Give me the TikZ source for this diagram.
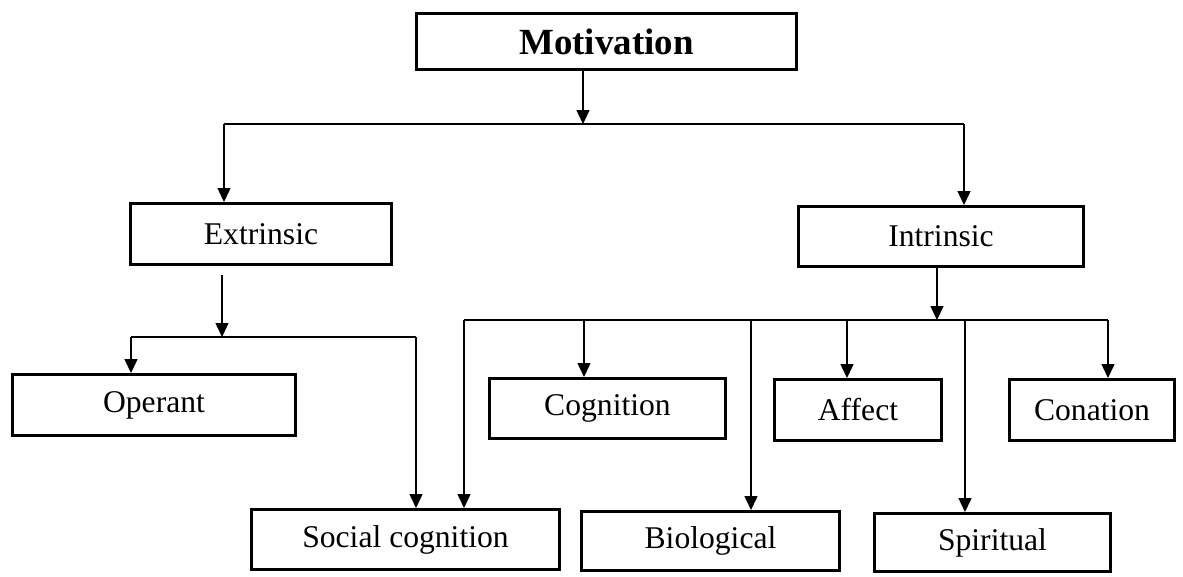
\documentclass[tikz,border=0pt]{standalone}
\usepackage{fontspec}
\setmainfont{Liberation Serif}
\usetikzlibrary{arrows.meta}

\begin{document}
\begin{tikzpicture}[x=0.02cm, y=-0.02cm]

\tikzset{box/.style = {shape=rectangle, draw, line width=1.7pt, inner sep=0pt, font=\fontsize{18}{20}\selectfont}}
\tikzset{link/.style = {-{Triangle[length=0.28cm,width=0.26cm]}, line width=0.8pt}}
\tikzset{bar/.style = {line width=0.8pt}}
\useasboundingbox (0,0) rectangle (1183,576);
%boxes
\node[box, minimum width=7.60cm, minimum height=1.12cm, font=\fontsize{21}{24}\selectfont\bfseries] (motivation) at (606.5,41.5) {Motivation};
\node[box, minimum width=5.22cm, minimum height=1.22cm] (extrinsic) at (261,234) {Extrinsic};
\node[box, minimum width=5.70cm, minimum height=1.20cm] (intrinsic) at (941,236.5) {Intrinsic};
\node[box, minimum width=5.66cm, minimum height=1.22cm] (operant) at (154,405) {Operant};
\node[box, minimum width=4.72cm, minimum height=1.20cm] (cognition) at (607.5,408.5) {Cognition};
\node[box, minimum width=3.34cm, minimum height=1.22cm] (affect) at (858,410) {Affect};
\node[box, minimum width=3.30cm, minimum height=1.22cm] (conation) at (1092,410) {Conation};
\node[box, minimum width=6.16cm, minimum height=1.20cm] (social) at (405.5,539.5) {Social cognition};
\node[box, minimum width=5.16cm, minimum height=1.18cm] (biological) at (710.5,541) {Biological};
\node[box, minimum width=4.72cm, minimum height=1.16cm] (spiritual) at (992.5,542.5) {Spiritual};
%junctions
\coordinate (jm) at (583,124);
\coordinate (jl) at (224,124);
\coordinate (jr) at (964,124);
\coordinate (ex) at (222,275);
\coordinate (je) at (222,337);
\coordinate (jeo) at (131,337);
\coordinate (jes) at (416,337);
\coordinate (in) at (937,320);
\coordinate (jis) at (464,320);
\coordinate (jic) at (584,320);
\coordinate (jib) at (751,320);
\coordinate (jia) at (847,320);
\coordinate (jip) at (965,320);
\coordinate (jin) at (1108,320);
%connectors
\draw [link] (jm |- motivation.south) -- (jm);
\draw [bar] (jl) -- (jr);
\draw [link] (jl) -- (jl |- extrinsic.north);
\draw [link] (jr) -- (jr |- intrinsic.north);
\draw [link] (ex) -- (je);
\draw [bar] (jeo) -- (jes);
\draw [link] (jeo) -- (jeo |- operant.north);
\draw [link] (jes) -- (jes |- social.north);
\draw [link] (in |- intrinsic.south) -- (in);
\draw [bar] (jis) -- (jin);
\draw [link] (jis) -- (jis |- social.north);
\draw [link] (jic) -- (jic |- cognition.north);
\draw [link] (jib) -- (jib |- biological.north);
\draw [link] (jia) -- (jia |- affect.north);
\draw [link] (jip) -- (jip |- spiritual.north);
\draw [link] (jin) -- (jin |- conation.north);

\end{tikzpicture}
\end{document}
